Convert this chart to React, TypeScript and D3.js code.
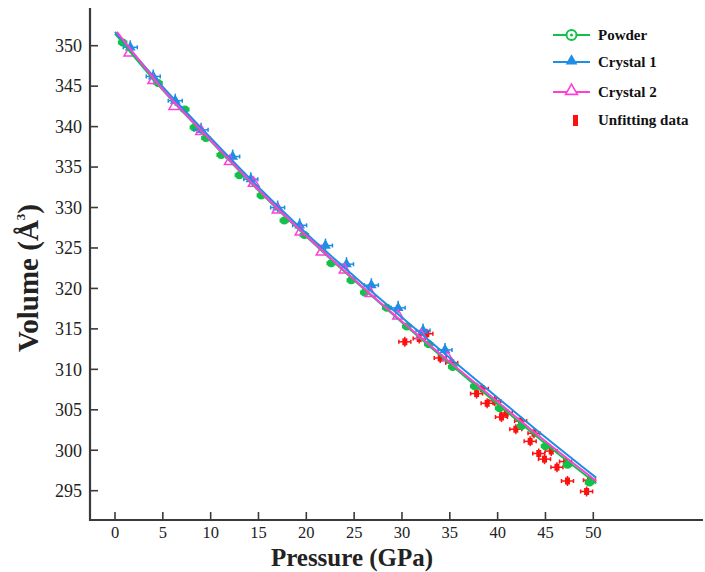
import React from "react";
import * as d3 from "d3";

const xTicks = [0, 5, 10, 15, 20, 25, 30, 35, 40, 45, 50];
const yTicks = [295, 300, 305, 310, 315, 320, 325, 330, 335, 340, 345, 350];

// fitted curves (pressure GPa, volume Å^3)
const fitP = [0, 5, 10, 15, 20, 25, 30, 35, 40, 45, 50.3];
const fitPink = [0.2, 5, 10, 15, 20, 25, 30, 35, 40, 45, 50.3];
const crystal1Fit = [351.7, 344.9, 338.6, 332.5, 326.8, 321.5, 316.4, 311.4, 306.5, 301.6, 296.6];
const crystal2Fit = [351.7, 344.6, 338.3, 332.2, 326.5, 321.1, 315.9, 310.9, 306.0, 301.1, 296.2];
const powderFit = [351.5, 344.5, 338.2, 332.1, 326.4, 321.0, 315.8, 310.7, 305.7, 300.8, 295.9];

// measured points
const powderP = [0.8, 4.5, 7.3, 8.3, 9.5, 11.1, 13.0, 15.3, 17.7, 19.8, 22.6, 24.7, 26.1, 28.4, 30.5, 32.8, 35.3, 37.6, 40.2, 42.5, 45.0, 47.3, 49.6];
const powderV = [350.4, 345.4, 342.1, 339.9, 338.6, 336.5, 334.0, 331.5, 328.4, 326.6, 323.1, 321.0, 319.5, 317.6, 315.3, 313.1, 310.3, 307.9, 305.2, 303.0, 300.5, 298.2, 296.0];

const crystal1P = [1.6, 4.0, 6.3, 9.0, 12.3, 14.2, 17.0, 19.3, 22.0, 24.2, 26.8, 29.6, 32.2, 34.5];
const crystal1V = [349.8, 346.2, 343.2, 339.6, 336.3, 333.5, 330.0, 327.8, 325.3, 323.0, 320.4, 317.6, 314.8, 312.4];

const crystal2P = [1.5, 4.0, 6.2, 9.0, 12.0, 14.5, 17.0, 19.4, 21.6, 24.0, 26.7, 29.6, 32.0, 34.8];
const crystal2V = [349.1, 345.7, 342.5, 339.4, 335.7, 333.0, 329.7, 327.0, 324.5, 322.3, 319.4, 316.6, 314.2, 311.4];

const unfitP = [30.3, 31.8, 32.6, 34.0, 35.2, 37.8, 38.4, 38.9, 39.7, 40.4, 40.9, 41.9, 42.4, 43.4, 43.8, 44.3, 44.9, 45.6, 46.2, 47.1, 47.3, 49.3, 49.6];
const unfitV = [313.4, 313.8, 314.4, 311.4, 310.8, 307.0, 307.6, 305.8, 306.1, 304.1, 304.6, 302.6, 303.6, 301.1, 302.1, 299.6, 298.9, 299.9, 297.9, 298.6, 296.2, 294.9, 296.3];

const GREEN = "#12c04a";
const BLUE = "#1c8ee6";
const PINK = "#ff3fd8";
const RED = "#ff1010";
const AXIS = "#3a3a3a";
const FONT = "'Liberation Serif', 'DejaVu Serif', serif";

export default function App() {
  const x = d3.scaleLinear().domain([0, 50]).range([115, 593.3]);
  const y = d3.scaleLinear().domain([295, 350]).range([490.7, 45.7]);

  const line = (ps: number[], vs: number[]) =>
    d3
      .line<number>()
      .x((_, i) => x(ps[i]))
      .y((v) => y(v))
      .curve(d3.curveMonotoneX)(vs) as string;

  const tri = d3.symbol(d3.symbolTriangle, 50)() as string;
  const triLeg = d3.symbol(d3.symbolTriangle, 60)() as string;

  const errH = (cx: number, cy: number, w: number, color: string, k: string) => (
    <g key={k} stroke={color} strokeWidth={1.5}>
      <line x1={cx - w} x2={cx + w} y1={cy} y2={cy} />
      <line x1={cx - w} x2={cx - w} y1={cy - 2} y2={cy + 2} />
      <line x1={cx + w} x2={cx + w} y1={cy - 2} y2={cy + 2} />
    </g>
  );

  return (
    <svg
      width={705}
      height={572}
      style={{ position: "absolute", left: 0, top: 0, background: "#fff" }}
      fontFamily={FONT}
    >
      <rect width={705} height={572} fill="#fff" />
      {/* axes */}
      <line x1={90} x2={90} y1={8} y2={521} stroke={AXIS} strokeWidth={2.2} />
      <line x1={89} x2={703} y1={520} y2={520} stroke={AXIS} strokeWidth={2.2} />
      {yTicks.map((t) => (
        <g key={"y" + t}>
          <line x1={90} x2={98} y1={y(t)} y2={y(t)} stroke={AXIS} strokeWidth={1.6} />
          <text x={82} y={y(t)} dy="0.35em" textAnchor="end" fontSize={18} fill="#222">
            {t}
          </text>
        </g>
      ))}
      {xTicks.map((t) => (
        <g key={"x" + t}>
          <line x1={x(t)} x2={x(t)} y1={520} y2={512} stroke={AXIS} strokeWidth={1.6} />
          <text x={x(t)} y={532} dy="0.35em" textAnchor="middle" fontSize={16.5} fill="#222">
            {t}
          </text>
        </g>
      ))}
      <text x={352} y={566} textAnchor="middle" fontSize={25} fontWeight="bold" fill="#222">
        Pressure (GPa)
      </text>
      <text
        transform="translate(38,278) rotate(-90)"
        textAnchor="middle"
        fontSize={29}
        fontWeight="bold"
        fill="#222"
      >
        Volume (Å<tspan fontSize={13} dy="-13">3</tspan><tspan dy="13">)</tspan>
      </text>

      {/* unfitting data */}
      {unfitP.map((p, i) => (
        <g key={"u" + i}>
          {errH(x(p), y(unfitV[i]), 6, RED, "ue" + i)}
          <line x1={x(p)} x2={x(p)} y1={y(unfitV[i]) - 5} y2={y(unfitV[i]) + 5} stroke={RED} strokeWidth={1.5} />
          <rect x={x(p) - 2.5} y={y(unfitV[i]) - 3.5} width={5} height={7} fill={RED} />
        </g>
      ))}

      {/* powder */}
      {powderP.map((p, i) => (
        <g key={"p" + i}>
          {errH(x(p), y(powderV[i]), 4, GREEN, "pe" + i)}
          <circle cx={x(p)} cy={y(powderV[i])} r={4} fill={GREEN} />
        </g>
      ))}
      {/* crystal 1 */}
      {crystal1P.map((p, i) => (
        <g key={"c1" + i}>
          {errH(x(p), y(crystal1V[i]), 7, BLUE, "c1e" + i)}
          <line x1={x(p)} x2={x(p)} y1={y(crystal1V[i]) - 7} y2={y(crystal1V[i]) + 5} stroke={BLUE} strokeWidth={1.5} />
          <path d={tri} transform={`translate(${x(p)},${y(crystal1V[i])})`} fill={BLUE} />
        </g>
      ))}
      {/* crystal 2 */}
      {crystal2P.map((p, i) => (
        <g key={"c2" + i}>
          <path
            d={tri}
            transform={`translate(${x(p)},${y(crystal2V[i])})`}
            fill="none"
            stroke={PINK}
            strokeWidth={1.5}
          />
        </g>
      ))}

      {/* fits */}
      <path d={line(fitP, powderFit)} fill="none" stroke={GREEN} strokeWidth={2} />
      <path d={line(fitP, crystal1Fit)} fill="none" stroke={BLUE} strokeWidth={2} />
      <path d={line(fitPink, crystal2Fit)} fill="none" stroke={PINK} strokeWidth={2} />

      {/* legend */}
      <g fontSize={15} fontWeight="bold" fill="#111">
        <line x1={553} x2={590} y1={35} y2={35} stroke={GREEN} strokeWidth={2} />
        <circle cx={571.5} cy={35} r={5} fill="#fff" stroke={GREEN} strokeWidth={2} />
        <circle cx={571.5} cy={35} r={1.5} fill={GREEN} />
        <text x={598} y={35} dy="0.35em">Powder</text>

        <line x1={553} x2={590} y1={62} y2={62} stroke={BLUE} strokeWidth={2} />
        <path d={triLeg} transform="translate(571.5,61)" fill={BLUE} />
        <text x={598} y={62} dy="0.35em">Crystal 1</text>

        <line x1={553} x2={590} y1={92} y2={92} stroke={PINK} strokeWidth={2} />
        <path d={triLeg} transform="translate(571.5,91)" fill="#fff" stroke={PINK} strokeWidth={1.6} />
        <text x={598} y={92} dy="0.35em">Crystal 2</text>

        <rect x={573} y={115} width={5} height={11} fill={RED} />
        <text x={598} y={120} dy="0.35em">Unfitting data</text>
      </g>
    </svg>
  );
}
